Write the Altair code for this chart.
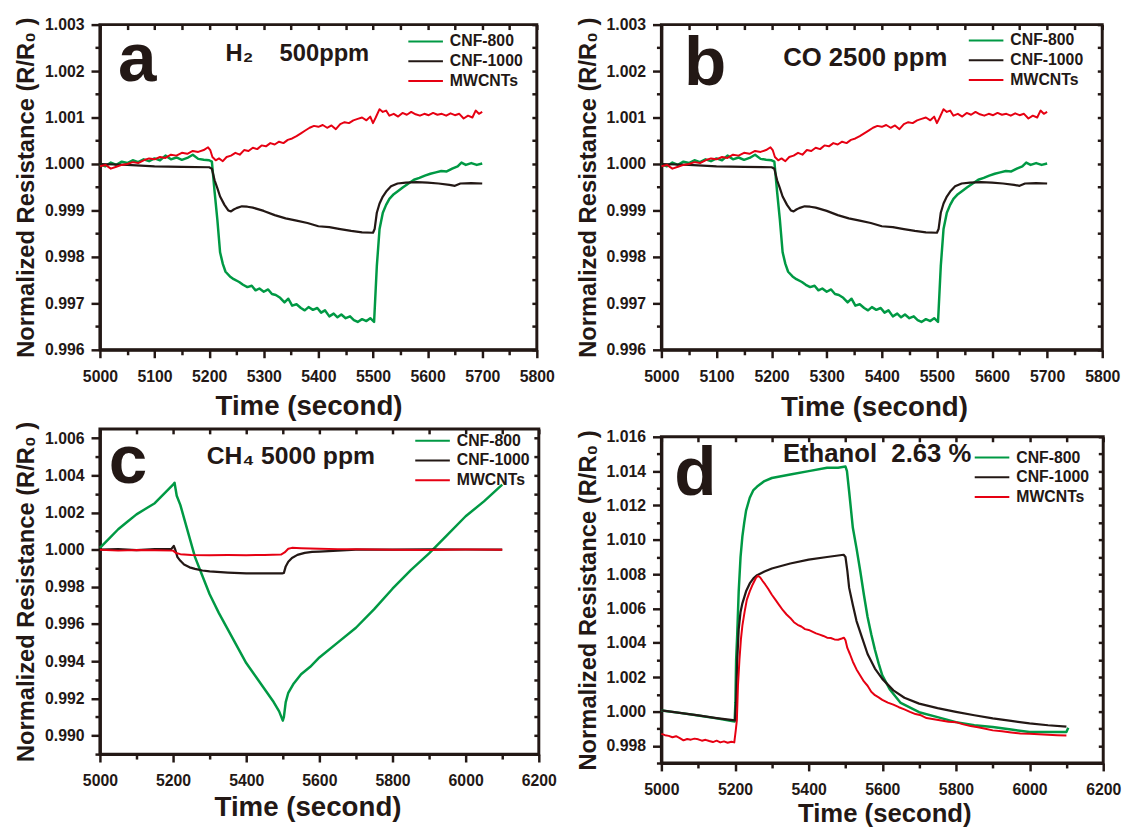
import altair as alt
import pandas as pd

GREEN = "#009944"
BLACK = "#231815"
RED = "#E60012"
SERIES = ["CNF-800", "CNF-1000", "MWCNTs"]
FONT = "Liberation Sans"

# ---------------- Panel a / b (H2 500 ppm, CO 2500 ppm: identical curves) -------------
ab_green_t = [5000, 5010, 5020, 5030, 5040, 5050, 5060, 5070, 5080, 5090, 5100, 5110, 5120, 5130,
              5140, 5150, 5160, 5170, 5180, 5190, 5200, 5205, 5210, 5215, 5220, 5225, 5230, 5238,
              5245, 5255, 5262, 5270, 5278, 5285, 5292, 5300, 5308, 5315, 5322, 5330, 5338, 5345,
              5352, 5360, 5368, 5375, 5382, 5390, 5398, 5405, 5412, 5420, 5428, 5435, 5442, 5450,
              5458, 5465, 5472, 5480, 5488, 5495, 5502, 5507, 5512, 5518, 5524, 5530, 5538, 5546,
              5555, 5565, 5575, 5585, 5595, 5605, 5615, 5625, 5635, 5645, 5655, 5662, 5670, 5680,
              5690, 5700]
ab_green_v = [1.00000, 0.99995, 1.00003, 0.99998, 1.00005, 1.00002, 1.00008, 1.00004, 1.00010,
              1.00006, 1.00012, 1.00008, 1.00018, 1.00010, 1.00014, 1.00009, 1.00013, 1.00020,
              1.00011, 1.00009, 1.00008, 1.00005, 0.99940, 0.99880, 0.99810, 0.99785, 0.99768,
              0.99758, 0.99752, 0.99746, 0.99740, 0.99735, 0.99738, 0.99728, 0.99732, 0.99725,
              0.99730, 0.99720, 0.99718, 0.99712, 0.99702, 0.99710, 0.99695, 0.99698, 0.99690,
              0.99685, 0.99692, 0.99686, 0.99690, 0.99680, 0.99685, 0.99672, 0.99678, 0.99670,
              0.99676, 0.99668, 0.99672, 0.99664, 0.99660, 0.99666, 0.99662, 0.99668, 0.99660,
              0.99780, 0.99860, 0.99895, 0.99912, 0.99925, 0.99935, 0.99942, 0.99950, 0.99958,
              0.99966, 0.99970, 0.99975, 0.99979, 0.99982, 0.99985, 0.99984, 0.99990, 0.99995,
              1.00003, 0.99998, 1.00002, 0.99998, 1.00001]

ab_black_t = [5000, 5050, 5100, 5150, 5200, 5205, 5210, 5215, 5220, 5228, 5235, 5240, 5245, 5250,
              5260, 5270, 5280, 5300, 5320, 5340, 5360, 5380, 5400, 5420, 5440, 5460, 5480, 5500,
              5503, 5507, 5512, 5518, 5525, 5533, 5545, 5560, 5580, 5600, 5620, 5640, 5650, 5660,
              5680, 5700]
ab_black_v = [1.00000, 0.99998, 0.99995, 0.99994, 0.99993, 0.99990, 0.99965, 0.99948, 0.99930,
              0.99912, 0.99900, 0.99898, 0.99902, 0.99905, 0.99909, 0.99908, 0.99906, 0.99899,
              0.99890, 0.99883, 0.99878, 0.99873, 0.99866, 0.99864, 0.99860, 0.99856, 0.99853,
              0.99852, 0.99860, 0.99895, 0.99915, 0.99930, 0.99942, 0.99952, 0.99958, 0.99960,
              0.99961, 0.99960, 0.99958, 0.99955, 0.99953, 0.99958, 0.99959, 0.99958]

ab_red_t = [5000, 5010, 5020, 5030, 5040, 5050, 5060, 5070, 5080, 5090, 5100, 5110, 5120, 5130,
            5140, 5150, 5160, 5170, 5180, 5190, 5198, 5202, 5206, 5212, 5218, 5225, 5232, 5240,
            5248, 5256, 5264, 5272, 5280, 5288, 5296, 5304, 5312, 5320, 5328, 5336, 5344, 5352,
            5360, 5368, 5376, 5384, 5392, 5400, 5408, 5416, 5424, 5432, 5440, 5448, 5456, 5464,
            5472, 5480, 5488, 5495, 5500, 5505, 5512, 5518, 5524, 5530, 5538, 5546, 5554, 5562,
            5570, 5578, 5586, 5594, 5602, 5610, 5618, 5626, 5634, 5642, 5650, 5658, 5666, 5674,
            5682, 5688, 5694, 5700]
ab_red_v = [0.99995, 0.99998, 0.99990, 0.99994, 0.99998, 1.00000, 1.00004, 1.00002, 1.00008,
            1.00012, 1.00010, 1.00015, 1.00013, 1.00020, 1.00018, 1.00024, 1.00022, 1.00028,
            1.00026, 1.00030, 1.00036, 1.00030, 1.00015, 1.00008, 1.00012, 1.00006, 1.00015,
            1.00018, 1.00024, 1.00020, 1.00030, 1.00028, 1.00035, 1.00032, 1.00040, 1.00038,
            1.00045, 1.00042, 1.00048, 1.00045, 1.00052, 1.00055, 1.00060, 1.00066, 1.00072,
            1.00078, 1.00082, 1.00080, 1.00084, 1.00078, 1.00083, 1.00075, 1.00086, 1.00090,
            1.00088, 1.00094, 1.00097, 1.00100, 1.00094, 1.00102, 1.00088, 1.00100, 1.00118,
            1.00112, 1.00115, 1.00104, 1.00108, 1.00102, 1.00110, 1.00106, 1.00112, 1.00107,
            1.00104, 1.00108, 1.00105, 1.00110, 1.00106, 1.00108, 1.00104, 1.00109, 1.00105,
            1.00108, 1.00098, 1.00104, 1.00100, 1.00115, 1.00108, 1.00112]

# ---------------- Panel c (CH4 5000 ppm) ----------------
c_green_t = [5000, 5025, 5050, 5075, 5100, 5125, 5150, 5175, 5200, 5204, 5210, 5220, 5230, 5240,
             5250, 5260, 5280, 5300, 5325, 5350, 5375, 5400, 5425, 5450, 5475, 5490, 5500, 5503,
             5508, 5515, 5530, 5550, 5575, 5600, 5650, 5700, 5750, 5800, 5850, 5900, 5950, 6000,
             6050, 6100]
c_green_v = [1.0001, 1.0006, 1.0011, 1.0015, 1.0019, 1.0022, 1.0025, 1.0030, 1.0035, 1.0036,
             1.0029, 1.0024, 1.0017, 1.0010, 1.0003, 0.9996, 0.9986, 0.9976, 0.9966, 0.9957,
             0.9948, 0.9939, 0.9932, 0.9925, 0.9918, 0.9913, 0.9908, 0.9910, 0.9918, 0.9923,
             0.9928, 0.9933, 0.9937, 0.9942, 0.9950, 0.9958, 0.9968, 0.9979, 0.9989, 0.9998,
             1.0008, 1.0018, 1.0026, 1.0035]
c_black_t = [5000, 5050, 5100, 5150, 5195, 5202, 5206, 5212, 5220, 5230, 5245, 5260, 5280, 5300,
             5350, 5400, 5450, 5498, 5503, 5508, 5515, 5525, 5540, 5560, 5580, 5600, 5650, 5700,
             5800, 5900, 6000, 6100]
c_black_v = [1.00000, 1.00003, 0.99998, 1.00003, 1.00003, 1.00020, 1.00000, 0.99960, 0.99940,
             0.99920, 0.99905, 0.99897, 0.99888, 0.99883, 0.99877, 0.99873, 0.99872, 0.99872,
             0.99875, 0.99910, 0.99935, 0.99955, 0.99972, 0.99983, 0.99988, 0.99990, 0.99995,
             1.00000, 1.00000, 1.00002, 1.00001, 1.00000]
c_red_t = [5000, 5050, 5100, 5150, 5200, 5208, 5220, 5250, 5300, 5350, 5400, 5450, 5495, 5505,
           5515, 5525, 5550, 5600, 5650, 5700, 5800, 5900, 6000, 6100]
c_red_v = [1.00000, 0.99995, 0.99998, 0.99997, 0.99995, 0.99982, 0.99976, 0.99972, 0.99970,
           0.99971, 0.99970, 0.99972, 0.99974, 0.99985, 1.00005, 1.00010, 1.00008, 1.00005,
           1.00003, 1.00002, 1.00000, 0.99998, 1.00001, 1.00000]

# ---------------- Panel d (Ethanol 2.63 %) ----------------
d_green_t = [5000, 5050, 5100, 5150, 5199, 5201, 5203, 5206, 5210, 5215, 5220, 5225, 5230, 5240,
             5250, 5260, 5280, 5300, 5350, 5400, 5450, 5480, 5500, 5504, 5510, 5520, 5530, 5540,
             5550, 5560, 5570, 5580, 5590, 5600, 5620, 5650, 5700, 5750, 5800, 5850, 5900, 5950,
             6000, 6050, 6100, 6105]
d_green_v = [1.00006, 0.99992, 0.99977, 0.99960, 0.99942, 1.0005, 1.0030, 1.0045, 1.0070, 1.0090,
             1.0102, 1.0110, 1.0117, 1.01245, 1.0129, 1.0131, 1.01342, 1.0136, 1.0138, 1.0140,
             1.0142, 1.0142, 1.01427, 1.0140, 1.0128, 1.0107, 1.0095, 1.0082, 1.0068, 1.0055,
             1.0045, 1.0036, 1.0028, 1.0021, 1.0013, 1.0005, 0.99996, 0.99967, 0.99938, 0.99920,
             0.99910, 0.99895, 0.99881, 0.99880, 0.99881, 0.99905]
d_black_t = [5000, 5050, 5100, 5150, 5200, 5203, 5206, 5210, 5215, 5220, 5230, 5240, 5250, 5260,
             5280, 5300, 5350, 5400, 5450, 5495, 5500, 5505, 5510, 5520, 5530, 5545, 5560, 5580,
             5600, 5630, 5660, 5700, 5750, 5800, 5850, 5900, 5950, 6000, 6050, 6100]
d_black_v = [1.00006, 0.99992, 0.99977, 0.99962, 0.99948, 1.0006, 1.0030, 1.0048, 1.0058, 1.0063,
             1.0070, 1.00746, 1.00775, 1.00794, 1.00815, 1.00833, 1.00862, 1.00885, 1.0090,
             1.00913, 1.0090, 1.0082, 1.0072, 1.0062, 1.00527, 1.0043, 1.00335, 1.0025, 1.0019,
             1.00123, 1.0008, 1.00046, 1.00020, 0.99998, 0.99978, 0.99960, 0.99945, 0.99931,
             0.99920, 0.99912]
d_red_t = [5000, 5010, 5020, 5030, 5040, 5050, 5060, 5070, 5080, 5090, 5100, 5110, 5120, 5130,
           5140, 5150, 5160, 5170, 5180, 5190, 5198, 5202, 5205, 5208, 5212, 5216, 5220, 5226,
           5232, 5240, 5248, 5256, 5262, 5268, 5275, 5282, 5290, 5300, 5310, 5320, 5330, 5340,
           5350, 5360, 5370, 5380, 5390, 5400, 5410, 5420, 5430, 5440, 5450, 5460, 5470, 5480,
           5490, 5496, 5500, 5505, 5512, 5520, 5530, 5540, 5550, 5560, 5570, 5580, 5590, 5600,
           5615, 5630, 5645, 5660, 5675, 5690, 5705, 5720, 5740, 5760, 5780, 5800, 5820, 5840,
           5860, 5880, 5900, 5925, 5950, 5975, 6000, 6025, 6050, 6075, 6100]
d_red_v = [0.99870, 0.99862, 0.99858, 0.99850, 0.99856, 0.99845, 0.99832, 0.99840, 0.99836,
           0.99842, 0.99838, 0.99830, 0.99835, 0.99828, 0.99822, 0.99830, 0.99820, 0.99826,
           0.99818, 0.99824, 0.99820, 0.99890, 0.99950, 1.00150, 1.00300, 1.00420, 1.00500,
           1.00580, 1.00650, 1.00700, 1.00740, 1.00775, 1.00790, 1.00782, 1.00760, 1.00740,
           1.00715, 1.00680, 1.00650, 1.00620, 1.00590, 1.00565, 1.00545, 1.00520, 1.00505,
           1.00495, 1.00480, 1.00475, 1.00465, 1.00455, 1.00448, 1.00440, 1.00430, 1.00428,
           1.00420, 1.00418, 1.00425, 1.00430, 1.00415, 1.00370, 1.00335, 1.00290, 1.00245,
           1.00210, 1.00175, 1.00150, 1.00115, 1.00095, 1.00082, 1.00068, 1.00052, 1.00040,
           1.00025, 1.00012, 0.99998, 0.99985, 0.99978, 0.99962, 0.99955, 0.99948, 0.99940,
           0.99938, 0.99925, 0.99915, 0.99908, 0.99900, 0.99890, 0.99885, 0.99878, 0.99872,
           0.99870, 0.99868, 0.99865, 0.99862, 0.99860]

# ---------------- Axis ticks ----------------
ab_x_major = [5000, 5100, 5200, 5300, 5400, 5500, 5600, 5700, 5800]
ab_x_minor = [5050, 5150, 5250, 5350, 5450, 5550, 5650, 5750]
ab_y_major = [0.996, 0.997, 0.998, 0.999, 1.000, 1.001, 1.002, 1.003]
ab_y_minor = [0.9965, 0.9975, 0.9985, 0.9995, 1.0005, 1.0015, 1.0025]
cd_x_major = [5000, 5200, 5400, 5600, 5800, 6000, 6200]
cd_x_minor = [5100, 5300, 5500, 5700, 5900, 6100]
c_y_major = [0.990, 0.992, 0.994, 0.996, 0.998, 1.000, 1.002, 1.004, 1.006]
c_y_minor = [0.989, 0.991, 0.993, 0.995, 0.997, 0.999, 1.001, 1.003, 1.005]
d_y_major = [0.998, 1.000, 1.002, 1.004, 1.006, 1.008, 1.010, 1.012, 1.014, 1.016]
d_y_minor = [0.997, 0.999, 1.001, 1.003, 1.005, 1.007, 1.009, 1.011, 1.013, 1.015]

LEG_PATH = "M-1,0H6"


def table(green, black, red):
    rows = []
    for name, (ts, vs) in zip(SERIES, [green, black, red]):
        for t, v in zip(ts, vs):
            rows.append({"t": t, "v": v, "s": name})
    return pd.DataFrame(rows)


def panel(df, xdom, xmaj, xmin, ydom, ymaj, ymin, W, H, legxy, letter, gas, xtitle_pad, widths,
          title_shift=0, xtitle_size=28):
    xs = alt.Scale(domain=xdom, nice=False, zero=False)
    ys = alt.Scale(domain=ydom, nice=False, zero=False)
    main = alt.Chart(df).mark_line(strokeJoin="round").encode(
        x=alt.X("t:Q", scale=xs, axis=alt.Axis(
            values=xmaj, format="d", title="Time (second)", titleFontSize=xtitle_size,
            titlePadding=xtitle_pad, tickSize=8, labelPadding=11, orient="bottom",
            titleX=W / 2 + title_shift)),
        y=alt.Y("v:Q", scale=ys, axis=alt.Axis(
            values=ymaj, format=".3f", title="Normalized Resistance (R/R\u2080 )",
            titleFontSize=24, titlePadding=6, tickSize=9, labelPadding=7,
            orient="left")),
        color=alt.Color("s:N", scale=alt.Scale(domain=SERIES, range=[GREEN, BLACK, RED]),
                        legend=alt.Legend(orient="none", legendX=legxy[0], legendY=legxy[1],
                                          title=None, symbolType=LEG_PATH, symbolSize=100,
                                          symbolStrokeWidth=2, labelFont=FONT,
                                          labelFontSize=16, labelFontWeight="bold",
                                          labelColor=BLACK, labelOffset=29, rowPadding=4,
                                          padding=0)),
        strokeWidth=alt.StrokeWidth("s:N", scale=alt.Scale(domain=SERIES, range=widths),
                                    legend=None),
    )
    minor = alt.Chart(df).mark_line(opacity=0).encode(
        x=alt.X("t:Q", scale=xs, axis=alt.Axis(values=xmin, labels=False, tickSize=5,
                                                domain=False, title=None, orient="bottom")),
        y=alt.Y("v:Q", scale=ys, axis=alt.Axis(values=ymin, labels=False, tickSize=5,
                                                domain=False, title=None, orient="left")),
    )
    inward = alt.Chart(df).mark_line(opacity=0).encode(
        x=alt.X("t:Q", scale=xs, axis=alt.Axis(values=xmaj + xmin, labels=False, tickSize=5,
                                                domain=False, title=None, orient="bottom",
                                                offset=-H)),
        y=alt.Y("v:Q", scale=ys, axis=alt.Axis(values=ymaj + ymin, labels=False, tickSize=5,
                                                domain=False, title=None, orient="left",
                                                offset=-W)),
    )
    layers = [main, minor, inward]
    for (txt, t, v, size) in [letter, gas]:
        layers.append(
            alt.Chart(pd.DataFrame({"t": [t], "v": [v], "label": [txt]})).mark_text(
                font=FONT, fontWeight="bold", fontSize=size, align="left",
                baseline="alphabetic", color=BLACK).encode(
                x=alt.X("t:Q", scale=xs, axis=None),
                y=alt.Y("v:Q", scale=ys, axis=None),
                text="label:N")
        )
    return alt.layer(*layers).resolve_axis(x="independent", y="independent").properties(
        width=W, height=H)


df_ab = table((ab_green_t, ab_green_v), (ab_black_t, ab_black_v), (ab_red_t, ab_red_v))
df_c = table((c_green_t, c_green_v), (c_black_t, c_black_v), (c_red_t, c_red_v))
df_d = table((d_green_t, d_green_v), (d_black_t, d_black_v), (d_red_t, d_red_v))

pa = panel(df_ab, [5000, 5800], ab_x_major, ab_x_minor, [0.996, 1.003], ab_y_major, ab_y_minor,
           442, 329, (309, 9), ("a", 5033, 1.00179, 70),
           ("H\u2082\u00a0\u00a0\u00a0\u00a0500ppm", 5230, 1.00222, 24), 8, [2.5, 2, 3],
           title_shift=-10)
pb = panel(df_ab, [5000, 5800], ab_x_major, ab_x_minor, [0.996, 1.003], ab_y_major, ab_y_minor,
           446, 329, (308, 8), ("b", 5041, 1.00171, 70),
           ("CO 2500 ppm", 5221, 1.00211, 26), 9, [2.5, 2, 3], title_shift=-8)
pc = panel(df_c, [5000, 6200], cd_x_major, cd_x_minor, [0.989, 1.0065], c_y_major, c_y_minor,
           444, 329, (316, 4), ("c", 5024, 1.00360, 70),
           ("CH\u2084 5000 ppm", 5292, 1.00459, 25), 5, [3, 2, 3], title_shift=-12)
pd_ = panel(df_d, [5000, 6200], cd_x_major, cd_x_minor, [0.997, 1.016], d_y_major, d_y_minor,
            447, 330, (314, 13), ("d", 5035, 1.0126, 70),
            ("Ethanol\u00a0\u00a02.63 %", 5330, 1.01453, 26), 3, [3, 3, 3], title_shift=2,
            xtitle_size=26)

left = alt.vconcat(pa, pc, spacing=-3).resolve_scale(color="independent").resolve_legend(
    color="independent")
right = alt.vconcat(pb, pd_, spacing=4).resolve_scale(color="independent").resolve_legend(
    color="independent")
chart = alt.hconcat(left, right, spacing=16).resolve_scale(color="independent").resolve_legend(
    color="independent").properties(
    padding={"left": 5, "top": 2, "right": 0, "bottom": 0},
    background="white",
).configure_view(stroke=BLACK, strokeWidth=3).configure_axis(
    labelFont=FONT, labelFontWeight="bold", labelFontSize=16, labelColor=BLACK,
    titleFont=FONT, titleFontWeight="bold", titleColor=BLACK, labelFlush=False,
    tickColor=BLACK, tickWidth=2.5, domainColor=BLACK, domainWidth=3, grid=False
)

chart.save("out.html", embed_options={"renderer": "svg", "actions": False})
